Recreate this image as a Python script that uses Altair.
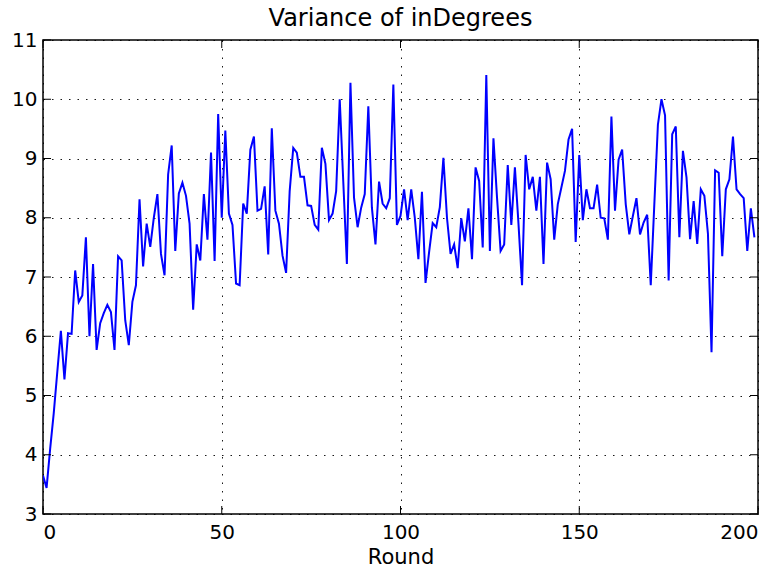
import altair as alt
import pandas as pd

values = [
    3.65, 3.44, 4.10, 4.70, 5.40, 6.09, 5.27, 6.05, 6.04, 7.11,
    6.58, 6.69, 7.67, 6.00, 7.22, 5.77, 6.22, 6.39, 6.53, 6.41,
    5.77, 7.35, 7.28, 6.27, 5.85, 6.58, 6.86, 8.31, 7.18, 7.90,
    7.51, 8.00, 8.40, 7.39, 7.03, 8.73, 9.22, 7.44, 8.41, 8.59,
    8.37, 7.90, 6.45, 7.55, 7.28, 8.40, 7.63, 9.10, 7.27, 9.75,
    8.00, 9.47, 8.07, 7.88, 6.89, 6.86, 8.24, 8.07, 9.15, 9.37,
    8.12, 8.15, 8.53, 7.38, 9.51, 8.12, 7.90, 7.36, 7.07, 8.45,
    9.18, 9.10, 8.69, 8.69, 8.21, 8.20, 7.88, 7.80, 9.18, 8.91,
    7.96, 8.07, 8.45, 10.00, 8.60, 7.22, 10.28, 8.34, 7.84, 8.17,
    8.40, 9.88, 8.17, 7.55, 8.61, 8.24, 8.16, 8.33, 10.25, 7.88,
    8.03, 8.48, 7.96, 8.48, 8.00, 7.30, 8.44, 6.90, 7.42, 7.91,
    7.84, 8.18, 9.01, 8.00, 7.39, 7.55, 7.15, 7.99, 7.60, 8.16,
    7.30, 8.85, 8.62, 7.50, 10.41, 7.44, 9.34, 8.34, 7.44, 7.55,
    8.89, 7.88, 8.85, 7.90, 6.86, 9.06, 8.48, 8.69, 8.12, 8.69,
    7.22, 8.93, 8.65, 7.63, 8.23, 8.51, 8.79, 9.32, 9.50, 7.59,
    9.06, 7.96, 8.48, 8.16, 8.16, 8.56, 8.00, 7.99, 7.63, 9.71,
    8.12, 8.98, 9.15, 8.23, 7.72, 8.03, 8.33, 7.72, 7.92, 8.05,
    6.86, 8.23, 9.57, 10.00, 9.73, 6.94, 9.41, 9.54, 7.67, 9.13,
    8.68, 7.64, 8.28, 7.56, 8.48, 8.37, 7.73, 5.73, 8.80, 8.76,
    7.35, 8.48, 8.65, 9.37, 8.48, 8.40, 8.33, 7.44, 8.16, 7.67,
]
rounds = list(range(len(values)))
x_ticks = [0, 50, 100, 150, 200]
y_ticks = [3, 4, 5, 6, 7, 8, 9, 10, 11]

W, H = 715, 474
FONT = "DejaVu Sans"

df = pd.DataFrame({"Round": rounds, "Variance": values})
xt = pd.DataFrame({"Round": x_ticks})
yt = pd.DataFrame({"Variance": y_ticks})

xscale = alt.Scale(domain=[0, 200], nice=False, zero=False)
yscale = alt.Scale(domain=[3, 11], nice=False, zero=False)

axis_common = dict(
    ticks=False, grid=True, domain=False, format="d",
    labelFont=FONT, labelFontSize=20, labelColor="black",
    titleFont=FONT, titleFontSize=21, titleColor="black", titleFontWeight="normal",
    gridColor="black", gridDash=[1.5, 7], gridWidth=1, gridOpacity=0.9,
)
xaxis = alt.Axis(values=x_ticks, title="Round", labelPadding=8, titlePadding=4, **axis_common)
yaxis = alt.Axis(values=y_ticks, title=None, labelPadding=6, **axis_common)

line = alt.Chart(df).mark_line(color="#0000ff", strokeWidth=2, clip=True).encode(
    x=alt.X("Round:Q", scale=xscale, axis=xaxis),
    y=alt.Y("Variance:Q", scale=yscale, axis=yaxis),
)

tick_len = 8
xb = alt.Chart(xt).mark_rule(color="black", strokeWidth=1).encode(
    x=alt.X("Round:Q", scale=xscale, axis=xaxis), y=alt.value(H), y2=alt.value(H - tick_len))
xtop = alt.Chart(xt).mark_rule(color="black", strokeWidth=1).encode(
    x=alt.X("Round:Q", scale=xscale, axis=xaxis), y=alt.value(0), y2=alt.value(tick_len))
yl = alt.Chart(yt).mark_rule(color="black", strokeWidth=1).encode(
    y=alt.Y("Variance:Q", scale=yscale, axis=yaxis), x=alt.value(0), x2=alt.value(tick_len))
yr = alt.Chart(yt).mark_rule(color="black", strokeWidth=1).encode(
    y=alt.Y("Variance:Q", scale=yscale, axis=yaxis), x=alt.value(W), x2=alt.value(W - tick_len))

chart = alt.layer(line, xb, xtop, yl, yr).properties(
    width=W, height=H,
    title=alt.Title("Variance of inDegrees", fontSize=24, font=FONT, fontWeight="normal",
                    color="black", offset=7, dy=8),
    autosize=alt.AutoSizeParams(type="none"),
    padding={"left": 43, "top": 40, "right": 22, "bottom": 58},
    background="white",
).configure_view(
    stroke="black", strokeWidth=1.5
)

chart.save("out.html", embed_options={"renderer": "svg", "actions": False})
